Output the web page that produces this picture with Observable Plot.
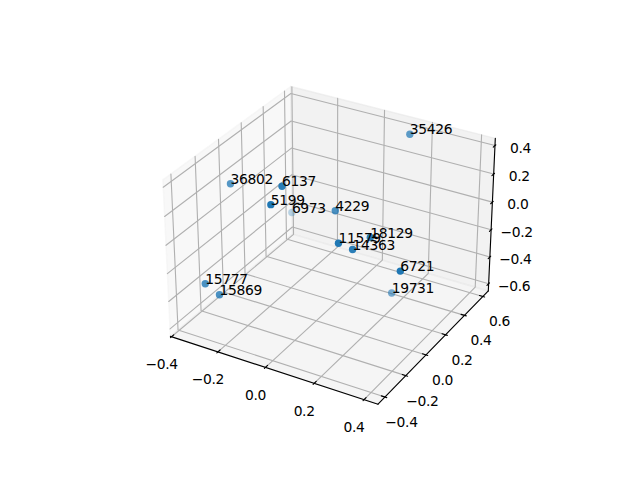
<!DOCTYPE html>
<html><head><meta charset="utf-8">
<script src="https://cdn.jsdelivr.net/npm/d3@7"></script>
<script src="https://cdn.jsdelivr.net/npm/@observablehq/plot@0.6"></script>
<style>html,body{margin:0;padding:0;background:#fff}</style>
</head><body><div id="chart"></div>
<script>
const labels=["36802","6137","5199","6973","35426","4229","15777","15869","11579","18129","14363","6721","19731"];
const xs=[-0.342,-0.057,-0.044,-0.393,0.158,0.039,-0.298,-0.244,0.191,0.254,0.211,0.400,0.182];
const ys=[-0.034,-0.175,-0.301,0.631,0.534,0.094,-0.361,-0.350,-0.223,-0.075,-0.139,-0.138,0.319];
const zs=[0.188,0.390,0.350,-0.464,0.421,0.098,-0.288,-0.347,0.152,0.125,0.063,0.009,-0.576];
const xTicks=[-0.4,-0.2,0,0.2,0.4],yTicks=[-0.4,-0.2,0,0.2,0.4,0.6],zTicks=[-0.6,-0.4,-0.2,0,0.2,0.4];
const xLim=[-0.405,0.455],yLim=[-0.465,0.66],zLim=[-0.655,0.45];
const dist=10,el=30*Math.PI/180,az=-60*Math.PI/180;
const k=1.8294640721620434*25/24/Math.hypot(4,4,3);
const box=[4*k,4*k,3*k],R=box.map(v=>v/2);
const W=[Math.cos(el)*Math.cos(az),Math.cos(el)*Math.sin(az),Math.sin(el)];
const E=R.map((r,i)=>r+dist*W[i]);
const cross=(a,b)=>[a[1]*b[2]-a[2]*b[1],a[2]*b[0]-a[0]*b[2],a[0]*b[1]-a[1]*b[0]];
const dot3=(a,b)=>a[0]*b[0]+a[1]*b[1]+a[2]*b[2];
const nrm=a=>{const n=Math.hypot(...a);return a.map(v=>v/n)};
const U=nrm(cross([0,0,1],W)),V=cross(W,U);
function proj(x,y,z){
 const P=[(x-xLim[0])/(xLim[1]-xLim[0])*box[0],(y-yLim[0])/(yLim[1]-yLim[0])*box[1],(z-zLim[0])/(zLim[1]-zLim[0])*box[2]];
 const q=P.map((p,i)=>p-E[i]);const D=-dot3(W,q);
 return {x:dot3(U,q)/D,y:dot3(V,q)/D,t:dot3(W,P.map((p,i)=>p-R[i]))};
}
const raw=labels.map((l,i)=>({...proj(xs[i],ys[i],zs[i]),l}));
const [tMin,tMax]=d3.extent(raw,d=>d.t);
const pts=raw.map(d=>({...d,a:1-0.7*(tMax-d.t)/(tMax-tMin)}));
const poly=(a)=>a.map(c=>proj(...c));
const [x0,x1]=xLim,[y0,y1]=yLim,[z0,z1]=zLim;
const panes=[
 {c:"rgb(242,242,242)",p:[[x0,y0,z0],[x0,y1,z0],[x0,y1,z1],[x0,y0,z1]]},
 {c:"rgb(230,230,230)",p:[[x0,y1,z0],[x1,y1,z0],[x1,y1,z1],[x0,y1,z1]]},
 {c:"rgb(236,236,236)",p:[[x0,y0,z0],[x1,y0,z0],[x1,y1,z0],[x0,y1,z0]]}];
const paneMarks=panes.map(s=>Plot.line(poly(s.p.concat([s.p[0]])),{x:"x",y:"y",fill:s.c,fillOpacity:.5,stroke:s.c,strokeOpacity:.5,strokeWidth:1.39,curve:"linear"}));
const grids=[...xTicks.map(v=>[[v,y0,z0],[v,y1,z0],[v,y1,z1]]),...yTicks.map(v=>[[x1,v,z0],[x0,v,z0],[x0,v,z1]]),...zTicks.map(v=>[[x0,y0,v],[x0,y1,v],[x1,y1,v]])];
const gridMarks=grids.map(g=>Plot.line(poly(g),{x:"x",y:"y",stroke:"rgb(176,176,176)",strokeWidth:1.11}));
const axes=[[[x0,y0,z0],[x1,y0,z0]],[[x1,y0,z0],[x1,y1,z0]],[[x1,y1,z0],[x1,y1,z1]]];
const axisMarks=axes.map(g=>Plot.line(poly(g),{x:"x",y:"y",stroke:"#000",strokeWidth:1.11}));
const dy=(y1-y0)/12,dx=(x1-x0)/12;
const tickSegs=[...xTicks.map(v=>[[v,y0+.2*dy,z0],[v,y0-.1*dy,z0]]),...yTicks.map(v=>[[x1-.2*dx,v,z0],[x1+.1*dx,v,z0]]),...zTicks.map(v=>[[x1,y1-.2*dy,v],[x1,y1+.1*dy,v]])];
const tickMarks=tickSegs.map(g=>Plot.line(poly(g),{x:"x",y:"y",stroke:"#000",strokeWidth:1.11}));
const fmt=v=>v.toFixed(1).replace("-","\u2212");
const font={fontFamily:"DejaVu Sans",fontSize:13.89,fill:"#000"};
const xl=xTicks.map(v=>({...proj(v,y0,z0),s:fmt(v)})),yl=yTicks.map(v=>({...proj(x1,v,z0),s:fmt(v)})),zl=zTicks.map(v=>({...proj(x1,y1,v),s:fmt(v)}));
document.getElementById("chart").append(Plot.plot({width:640,height:480,margin:0,style:{letterSpacing:"-0.35px"},
 x:{axis:null,domain:[-0.0944,0.0906],range:[143.2,512.8]},y:{axis:null,domain:[-0.0927,0.0923],range:[422.4,52.8]},
 marks:[...paneMarks,...gridMarks,...axisMarks,...tickMarks,
 Plot.text(xl,{x:"x",y:"y",text:"s",...font,dx:-10,dy:28,textAnchor:"middle"}),
 Plot.text(yl,{x:"x",y:"y",text:"s",...font,dx:16.5,dy:25.5,textAnchor:"middle"}),
 Plot.text(zl,{x:"x",y:"y",text:"s",...font,dx:25.5,dy:2.5,textAnchor:"middle"}),
 Plot.dot(pts,{x:"x",y:"y",r:3.7,fill:"#1f77b4",fillOpacity:"a"}),
 Plot.text(pts,{x:"x",y:"y",text:"l",...font,textAnchor:"start",lineAnchor:"bottom"})
 ]}));
</script></body></html>
